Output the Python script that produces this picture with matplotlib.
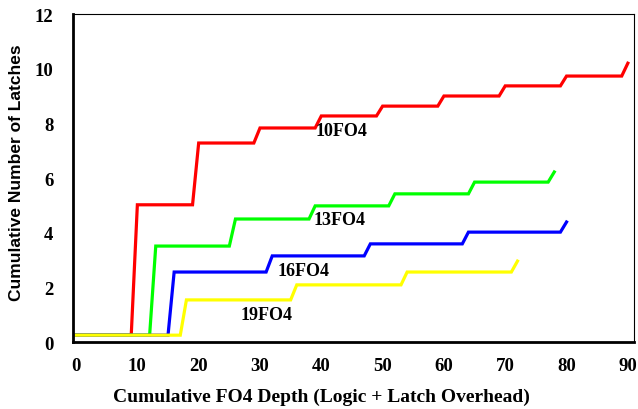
import matplotlib
matplotlib.use("Agg")
import matplotlib.pyplot as plt

# step curves: (fo4 depth, cumulative latches)
x_10 = [0, 9, 10, 19, 20, 29, 30, 39, 40, 49, 50, 59, 60, 69, 70, 79, 80, 89, 90]
y_10 = [0.25, 0.25, 5.02, 5.02, 7.28, 7.28, 7.83, 7.83, 8.27, 8.27, 8.63, 8.63, 9.0, 9.0, 9.37, 9.37, 9.73, 9.73, 10.2]

x_13 = [0, 12, 13, 25, 26, 38, 39, 51, 52, 64, 65, 77, 78]
y_13 = [0.25, 0.25, 3.51, 3.51, 4.5, 4.5, 4.98, 4.98, 5.42, 5.42, 5.85, 5.85, 6.22]

x_16 = [0, 15, 16, 31, 32, 47, 48, 63, 64, 79, 80]
y_16 = [0.25, 0.25, 2.56, 2.56, 3.15, 3.15, 3.59, 3.59, 4.02, 4.02, 4.39]

x_19 = [0, 17, 18, 35, 36, 53, 54, 71, 72]
y_19 = [0.25, 0.25, 1.54, 1.54, 2.09, 2.09, 2.56, 2.56, 2.96]

labels = ["10FO4", "13FO4", "16FO4", "19FO4"]
label_pos = [(39, 7.72), (38.7, 4.5), (32.8, 2.63), (26.8, 1.02)]
colors = ["#ff0000", "#00ff00", "#0000ff", "#ffff00"]

serif = "Liberation Serif"
sans = "Liberation Sans"

fig = plt.figure(figsize=(6.38, 4.10), dpi=100)
ax = fig.add_axes([0.1144, 0.1634, 0.8793, 0.80])

for xs, ys, c in zip([x_10, x_13, x_16, x_19], [y_10, y_13, y_16, y_19], colors):
    ax.plot(xs, ys, color=c, linewidth=2.3, solid_joinstyle="miter")

for txt, (tx, ty) in zip(labels, label_pos):
    ax.text(tx, ty, txt, family=serif, fontweight="bold", fontsize=13,
            ha="left", va="center")

ax.set_xlim(-0.5, 91)
ax.set_ylim(0, 12)
ax.set_xticks(range(0, 91, 10))
ax.set_yticks(range(0, 13, 2))
ax.tick_params(axis="x", length=0, pad=11)
ax.tick_params(axis="y", length=0, pad=14)
for lab in ax.get_xticklabels() + ax.get_yticklabels():
    lab.set_family(serif)
    lab.set_fontweight("bold")
    lab.set_fontsize(13.5)

ax.spines["left"].set_linewidth(2)
ax.spines["bottom"].set_linewidth(2)
ax.spines["top"].set_linewidth(0.8)
ax.spines["right"].set_linewidth(0.8)

ax.set_xlabel("Cumulative FO4 Depth (Logic + Latch Overhead)", family=serif,
              fontweight="bold", fontsize=14)
ax.xaxis.set_label_coords(0.442, -0.14)
ax.set_ylabel("Cumulative Number of Latches", family=sans,
              fontweight="bold", fontsize=12.5)
ax.yaxis.set_label_coords(-0.087, 0.52)

plt.savefig("out.png", dpi=100)
